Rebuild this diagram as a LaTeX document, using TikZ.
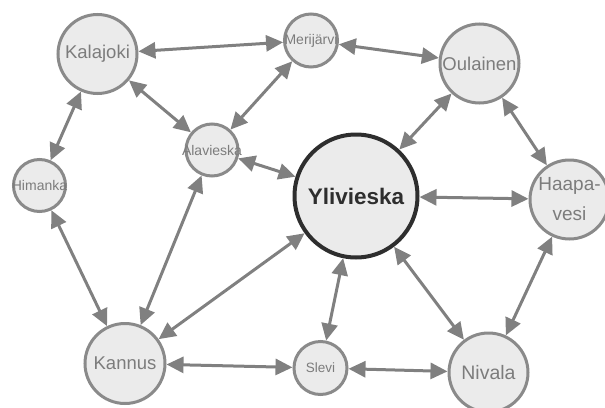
\documentclass[tikz,border=0pt]{standalone}
\usepackage{fontspec}
\setmainfont{Liberation Sans}
\usetikzlibrary{arrows.meta}
\definecolor{nodefill}{HTML}{EBEBEB}
\definecolor{nodeborder}{HTML}{8A8A8A}
\definecolor{txtgray}{HTML}{7C7C7C}
\definecolor{edgegray}{HTML}{808080}
\definecolor{darkborder}{HTML}{2E2E2E}
\tikzset{
  town/.style={circle, draw=nodeborder, fill=nodefill, line width=3pt, inner sep=0pt, text=txtgray},
  bigtown/.style={town, font=\fontsize{18.5}{22}\selectfont},
  smalltown/.style={town, font=\fontsize{14}{16}\selectfont},
  edge/.style={draw=edgegray, line width=3pt, {Triangle[length=17pt,width=16pt]}-{Triangle[length=17pt,width=16pt]}}
}
\begin{document}
\begin{tikzpicture}[x=1pt,y=-1pt]
\useasboundingbox (0,0) rectangle (605,407);
\clip (0,0) rectangle (605,407);
\node[bigtown, minimum size=79pt] (kal) at (97.5,54) {Kalajoki};
\node[smalltown, minimum size=53pt] (mer) at (311,40.5) {\makebox[0pt]{Merijärvi}};
\node[bigtown, minimum size=79pt] (oul) at (479.5,63.5) {Oulainen};
\node[smalltown, minimum size=52pt] (ala) at (212,150) {\makebox[0pt]{Alavieska}};
\node[smalltown, minimum size=52pt] (him) at (39.5,185.5) {\makebox[0pt]{Himanka}};
\node[town, draw=darkborder, line width=4pt, minimum size=123pt, text=darkborder, font=\fontsize{22.5}{26}\selectfont\bfseries] (yli) at (356,196) {Ylivieska};
\node[town, minimum size=79pt, align=center, font=\fontsize{19}{30}\selectfont] (haa) at (569.5,199.5) {Haapa-\\vesi};
\node[bigtown, minimum size=80pt] (kan) at (125,363.5) {Kannus};
\node[smalltown, minimum size=53pt, font=\fontsize{13.5}{16}\selectfont] (sle) at (320.5,368) {Slevi};
\node[bigtown, minimum size=79pt, font=\fontsize{19.5}{22}\selectfont] (niv) at (488.5,372.5) {Nivala};
\path[edge] (kal) -- (mer);
\path[edge] (kal) -- (ala);
\path[edge] (kal) -- (him);
\path[edge] (mer) -- (ala);
\path[edge] (mer) -- (oul);
\path[edge] (oul) -- (yli);
\path[edge] (oul) -- (haa);
\path[edge] (ala) -- (yli);
\path[edge] (ala) -- (kan);
\path[edge] (him) -- (kan);
\path[edge] (yli) -- (haa);
\path[edge] (yli) -- (kan);
\path[edge] (yli) -- (sle);
\path[edge] (yli) -- (niv);
\path[edge] (haa) -- (niv);
\path[edge] (kan) -- (sle);
\path[edge] (sle) -- (niv);
\end{tikzpicture}
\end{document}
